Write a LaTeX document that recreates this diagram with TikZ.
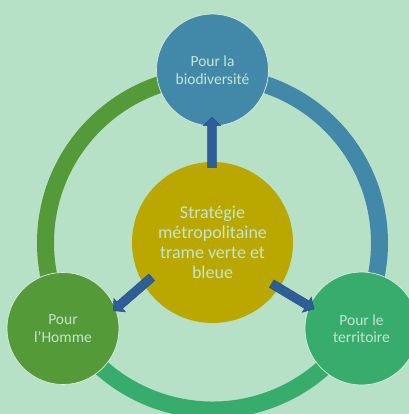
\documentclass[tikz,border=0pt]{standalone}
\usepackage{fontspec}
\setmainfont{Carlito}
\usetikzlibrary{calc}
\definecolor{bg}{HTML}{B7E1C7}
\definecolor{txt}{HTML}{C2E6D0}
\definecolor{cblue}{HTML}{4288A8}
\definecolor{cgreen}{HTML}{549A38}
\definecolor{cteal}{HTML}{38AC6C}
\definecolor{colive}{HTML}{BAA800}
\definecolor{arrowc}{HTML}{2E5E98}
\definecolor{arrowd}{HTML}{27508A}
\tikzset{
  ringarc/.style={line width=17bp},
  bubble/.style={circle, draw=bg!60!white, line width=0.7bp, text=txt, align=center, inner sep=0pt},
  outertext/.style={font=\fontsize{15.5bp}{17.5bp}\selectfont},
  centertext/.style={font=\fontsize{18bp}{19.8bp}\selectfont},
  blockarrow/.style={fill=arrowc, draw=arrowd, line width=0.5bp, line join=miter}
}
\newcommand\myblockarrow[2]{%
  \coordinate (hb) at ($(#2)!8.4bp!(#1)$);
  \path[blockarrow] ($(#1)!4.4bp!90:(#2)$) -- ($(hb)!4.4bp!90:(#2)$) -- ($(hb)!8.8bp!90:(#2)$)
    -- (#2) -- ($(hb)!8.8bp!-90:(#2)$) -- ($(hb)!4.4bp!-90:(#2)$) -- ($(#1)!4.4bp!-90:(#2)$) -- cycle;}
\begin{document}
\begin{tikzpicture}[x=1bp, y=1bp]
\useasboundingbox (0,0) rectangle (409,414);
\clip (0,0) rectangle (409,414);
\fill[bg] (0,0) rectangle (409,414);
\coordinate (O) at (212.5,171);
% ring
\draw[ringarc, cblue] ([shift={(90:167)}]O) arc[start angle=90, end angle=-30, radius=167];
\draw[ringarc, cgreen] ([shift={(90:167)}]O) arc[start angle=90, end angle=210, radius=167];
\draw[ringarc, cteal] ([shift={(210:167)}]O) arc[start angle=210, end angle=330, radius=167];
% nodes
\node[bubble, fill=cblue, minimum size=112bp, outertext] (top) at (212.5,344) {Pour la\\biodiversité};
\node[bubble, fill=cgreen, minimum size=112bp, outertext] (left) at (63,85.5) {Pour\\l’Homme};
\node[bubble, fill=cteal, minimum size=113bp, outertext] (right) at (361.5,85.5) {Pour le\\territoire};
\node[circle, fill=colive, minimum size=161bp, text=txt, align=center, inner sep=0pt, centertext] (center) at (212.5,171.5) {Stratégie\\métropolitaine\\trame verte et\\bleue};
% arrow ends
\coordinate (upTail) at (212,246.3);
\coordinate (upTip) at (212,296.7);
\coordinate (lTail) at (151.8,136.7);
\coordinate (lTip) at (113.3,103.3);
\coordinate (rTail) at (271.7,130.3);
\coordinate (rTip) at (314,105);
\myblockarrow{upTail}{upTip}
\myblockarrow{lTail}{lTip}
\myblockarrow{rTail}{rTip}
\end{tikzpicture}
\end{document}
